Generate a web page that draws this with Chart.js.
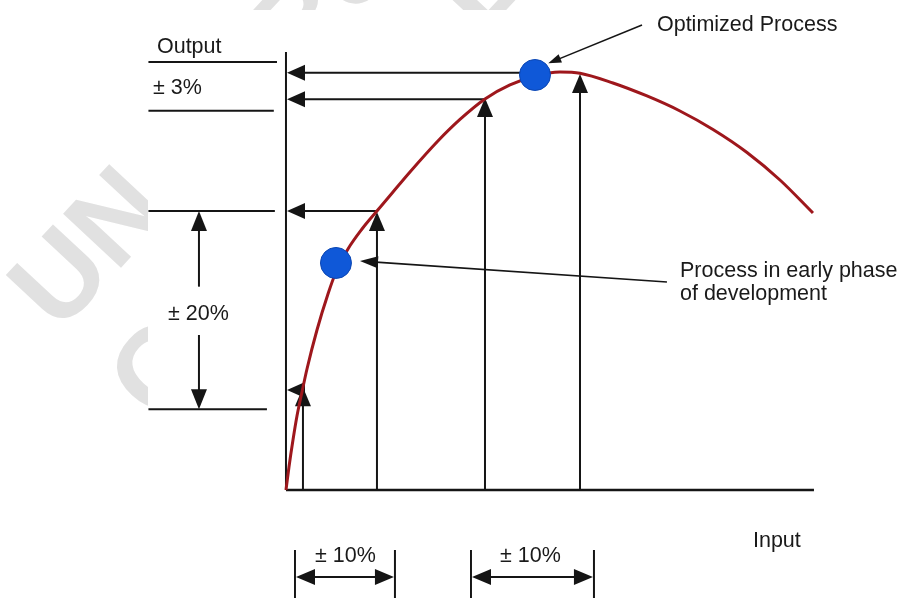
<!DOCTYPE html>
<html>
<head>
<meta charset="utf-8">
<script src="https://cdn.jsdelivr.net/npm/chart.js@4.4.1/dist/chart.umd.min.js"></script>
<style>
  html, body { margin: 0; padding: 0; background: #fff; }
  #wrap { width: 902px; height: 598px; }
</style>
</head>
<body>
<div id="wrap"><canvas id="chart" width="902" height="598"></canvas></div>
<script>
// value ranges of the hidden axes (input %, output %)
const inputRange = [-54.06, 116.45];
const outputRange = [-25.84, 117.22];

// response curve
const curveInput  = [0, 0.567, 1.323, 2.079, 3.025, 3.970, 5.860, 7.940, 9.452, 11.72, 14.37, 17.20, 20.23, 23.44, 28.54, 32.89, 37.62, 42.34, 47.07, 51.80, 55.58, 61.81, 68.24, 74.48, 80.72, 87.15, 93.38, 99.62];
const curveOutput = [0, 5.50, 11.96, 17.70, 23.44, 28.95, 38.28, 46.89, 52.15, 57.66, 62.44, 66.75, 71.29, 76.08, 83.25, 88.64, 93.54, 96.89, 99.04, 100.0, 99.71, 97.37, 94.26, 90.67, 86.24, 80.74, 74.16, 66.27];

// the two processes (early phase, optimized)
const processInput  = [9.45, 47.07];
const processOutput = [54.31, 99.28];

// probe arrows: input level -> output read back on the axis
const probeInput   = [3.21, 17.20, 37.62, 55.58];
const probeTop     = [24.6, 66.5, 93.8, 99.5];
const readStart    = [3.21, 17.20, 37.62, 47.07];
const readOutput   = [23.9, 66.75, 93.5, 99.8];

// axis extents
const axisInputEnd = 99.81;
const axisOutputEnd = 104.78;

// output bands (left) and input bands (bottom)
const outBandLevels = [102.39, 90.74, 66.75, 19.31];
const outBandEnds   = [-1.7, -2.3, -2.1, -3.6];
const outBandStart  = -26.0;
const band20Input   = -16.45;
const band20Gap     = [48.64, 37.08];
const inBandTicks   = [1.70, 20.60, 34.97, 58.22];
const inBandTop     = -14.35;
const inBandArrow   = -20.81;

// leader lines [fromInput, fromOutput, toInput, toOutput]
const leaderOptimized = [67.30, 111.24, 49.58, 102.08];
const leaderEarly     = [72.02, 49.76, 13.99, 54.78];

// labels and their anchors (left/baseline in data units)
const labelText   = ['Output', '\u00b1 3%', '\u00b1 20%', 'Optimized Process', 'Process in early phase', 'of development', 'Input', '\u00b1 10%', '\u00b1 10%'];
const labelInput  = [-24.39, -25.14, -22.31, 70.13, 74.48, 74.48, 88.28, 5.48, 40.45];
const labelOutput = [104.55, 94.74, 40.67, 109.81, 50.96, 45.45, -13.64, -17.22, -17.22];

// faint background watermark, only visible round the diagram
const watermarkLeft = ['UN', 'C'];
const watermarkTop  = ['UNIVERSITY', 'CENTRE FOR', 'COLLEGE'];

const INK = '#151515';
const FONT = '21.5px "Liberation Sans", Arial, sans-serif';

function toPx(chart, u, v) {
  return [chart.scales.x.getPixelForValue(u), chart.scales.y.getPixelForValue(v)];
}

function head(ctx, x, y, ang, len, wid) {
  const bx = x - Math.cos(ang) * len, by = y - Math.sin(ang) * len;
  ctx.beginPath();
  ctx.moveTo(x, y);
  ctx.lineTo(bx + Math.sin(ang) * wid / 2, by - Math.cos(ang) * wid / 2);
  ctx.lineTo(bx - Math.sin(ang) * wid / 2, by + Math.cos(ang) * wid / 2);
  ctx.closePath();
  ctx.fill();
}

function arrow(ctx, x1, y1, x2, y2, len, wid) {
  const ang = Math.atan2(y2 - y1, x2 - x1);
  ctx.beginPath();
  ctx.moveTo(x1, y1);
  ctx.lineTo(x2 - Math.cos(ang) * (len - 2), y2 - Math.sin(ang) * (len - 2));
  ctx.stroke();
  head(ctx, x2, y2, ang, len, wid);
}

function line(ctx, x1, y1, x2, y2) {
  ctx.beginPath();
  ctx.moveTo(x1, y1);
  ctx.lineTo(x2, y2);
  ctx.stroke();
}

function stamp(ctx, texts, clip) {
  const starts = [[59, 334], [158, 426], [262, 516]];
  ctx.save();
  ctx.beginPath();
  ctx.rect(clip[0], clip[1], clip[2], clip[3]);
  ctx.clip();
  ctx.fillStyle = '#e1e1e1';
  ctx.font = 'bold 115px "Liberation Sans", Arial, sans-serif';
  texts.forEach((t, i) => {
    ctx.save();
    ctx.translate(starts[i][0], starts[i][1]);
    ctx.rotate(-47 * Math.PI / 180);
    ctx.fillText(t, 0, 0);
    ctx.restore();
  });
  ctx.restore();
}

const watermark = {
  id: 'watermark',
  beforeDraw(chart) {
    const ctx = chart.ctx;
    ctx.save();
    ctx.fillStyle = '#fff';
    ctx.fillRect(0, 0, chart.width, chart.height);
    ctx.restore();
    stamp(ctx, watermarkLeft, [0, 0, 148, chart.height]);
    stamp(ctx, watermarkTop, [148, 0, chart.width - 148, 10]);
  }
};

const guides = {
  id: 'guides',
  beforeDatasetsDraw(chart) {
    const ctx = chart.ctx;
    ctx.save();
    ctx.strokeStyle = INK;
    ctx.fillStyle = INK;
    ctx.lineWidth = 2;

    // vertical probe arrows from the input axis up to the curve
    probeInput.forEach((u, i) => {
      const [x0, y0] = toPx(chart, u, 0);
      const [x1, y1] = toPx(chart, u, probeTop[i]);
      arrow(ctx, x0, y0, x1, y1, 19, 16);
    });
    // horizontal arrows back to the output axis
    readStart.forEach((u, i) => {
      const [x0, y0] = toPx(chart, u, readOutput[i]);
      const [x1] = toPx(chart, 0, readOutput[i]);
      arrow(ctx, x0, y0, x1 + 1, y0, 18, 16);
    });

    // output band lines
    outBandLevels.forEach((v, i) => {
      const [x0, y0] = toPx(chart, outBandStart, v);
      const [x1] = toPx(chart, outBandEnds[i], v);
      line(ctx, x0, y0, x1, y0);
    });
    // +/-20% double arrow
    const [ax, aTop] = toPx(chart, band20Input, outBandLevels[2]);
    const [, aBot] = toPx(chart, band20Input, outBandLevels[3]);
    const [, g1] = toPx(chart, band20Input, band20Gap[0]);
    const [, g2] = toPx(chart, band20Input, band20Gap[1]);
    arrow(ctx, ax, g1, ax, aTop, 20, 16);
    arrow(ctx, ax, g2, ax, aBot, 20, 16);

    // input bands at the bottom
    for (let k = 0; k < inBandTicks.length; k += 2) {
      const [xa, yt] = toPx(chart, inBandTicks[k], inBandTop);
      const [xb] = toPx(chart, inBandTicks[k + 1], inBandTop);
      line(ctx, xa, yt, xa, chart.height);
      line(ctx, xb, yt, xb, chart.height);
      const [, ya] = toPx(chart, 0, inBandArrow);
      line(ctx, xa + 16, ya, xb - 16, ya);
      head(ctx, xa + 1, ya, Math.PI, 19, 16);
      head(ctx, xb - 1, ya, 0, 19, 16);
    }
    ctx.restore();
  },
  afterDatasetsDraw(chart) {
    const ctx = chart.ctx;
    ctx.save();
    ctx.strokeStyle = INK;
    ctx.fillStyle = INK;
    ctx.lineWidth = 1.6;
    let [a, b] = toPx(chart, leaderOptimized[0], leaderOptimized[1]);
    let [c, d] = toPx(chart, leaderOptimized[2], leaderOptimized[3]);
    arrow(ctx, a, b, c, d, 13, 9);
    [a, b] = toPx(chart, leaderEarly[0], leaderEarly[1]);
    [c, d] = toPx(chart, leaderEarly[2], leaderEarly[3]);
    arrow(ctx, a, b, c, d, 18, 12);

    ctx.font = FONT;
    ctx.fillStyle = '#1a1a1a';
    ctx.textBaseline = 'alphabetic';
    ctx.textAlign = 'left';
    labelText.forEach((t, i) => {
      const [x, y] = toPx(chart, labelInput[i], labelOutput[i]);
      ctx.fillText(t, x, y);
    });
    ctx.restore();
  }
};

const curvePoints = curveInput.map((u, i) => ({ x: u, y: curveOutput[i] }));
const processPoints = processInput.map((u, i) => ({ x: u, y: processOutput[i] }));

new Chart(document.getElementById('chart'), {
  type: 'scatter',
  data: {
    datasets: [
      {
        label: 'Process',
        data: processPoints,
        pointRadius: 15.5,
        pointHoverRadius: 15.5,
        backgroundColor: '#0f58d8',
        borderColor: '#0c47b4',
        borderWidth: 1,
        showLine: false
      },
      {
        label: 'Response',
        data: curvePoints,
        showLine: true,
        borderColor: '#9e171c',
        borderWidth: 3,
        pointRadius: 0,
        cubicInterpolationMode: 'monotone',
        fill: false
      },
      {
        label: 'Output axis',
        data: [{ x: 0, y: 0 }, { x: 0, y: axisOutputEnd }],
        showLine: true,
        borderColor: INK,
        borderWidth: 2,
        pointRadius: 0
      },
      {
        label: 'Input axis',
        data: [{ x: 0, y: 0 }, { x: axisInputEnd, y: 0 }],
        showLine: true,
        borderColor: INK,
        borderWidth: 2.4,
        pointRadius: 0
      }
    ]
  },
  options: {
    responsive: false,
    animation: false,
    events: [],
    layout: { padding: 0, autoPadding: false },
    scales: {
      x: { type: 'linear', min: inputRange[0], max: inputRange[1], display: false },
      y: { type: 'linear', min: outputRange[0], max: outputRange[1], display: false }
    },
    plugins: {
      legend: { display: false },
      tooltip: { enabled: false }
    }
  },
  plugins: [watermark, guides]
});
</script>
</body>
</html>
